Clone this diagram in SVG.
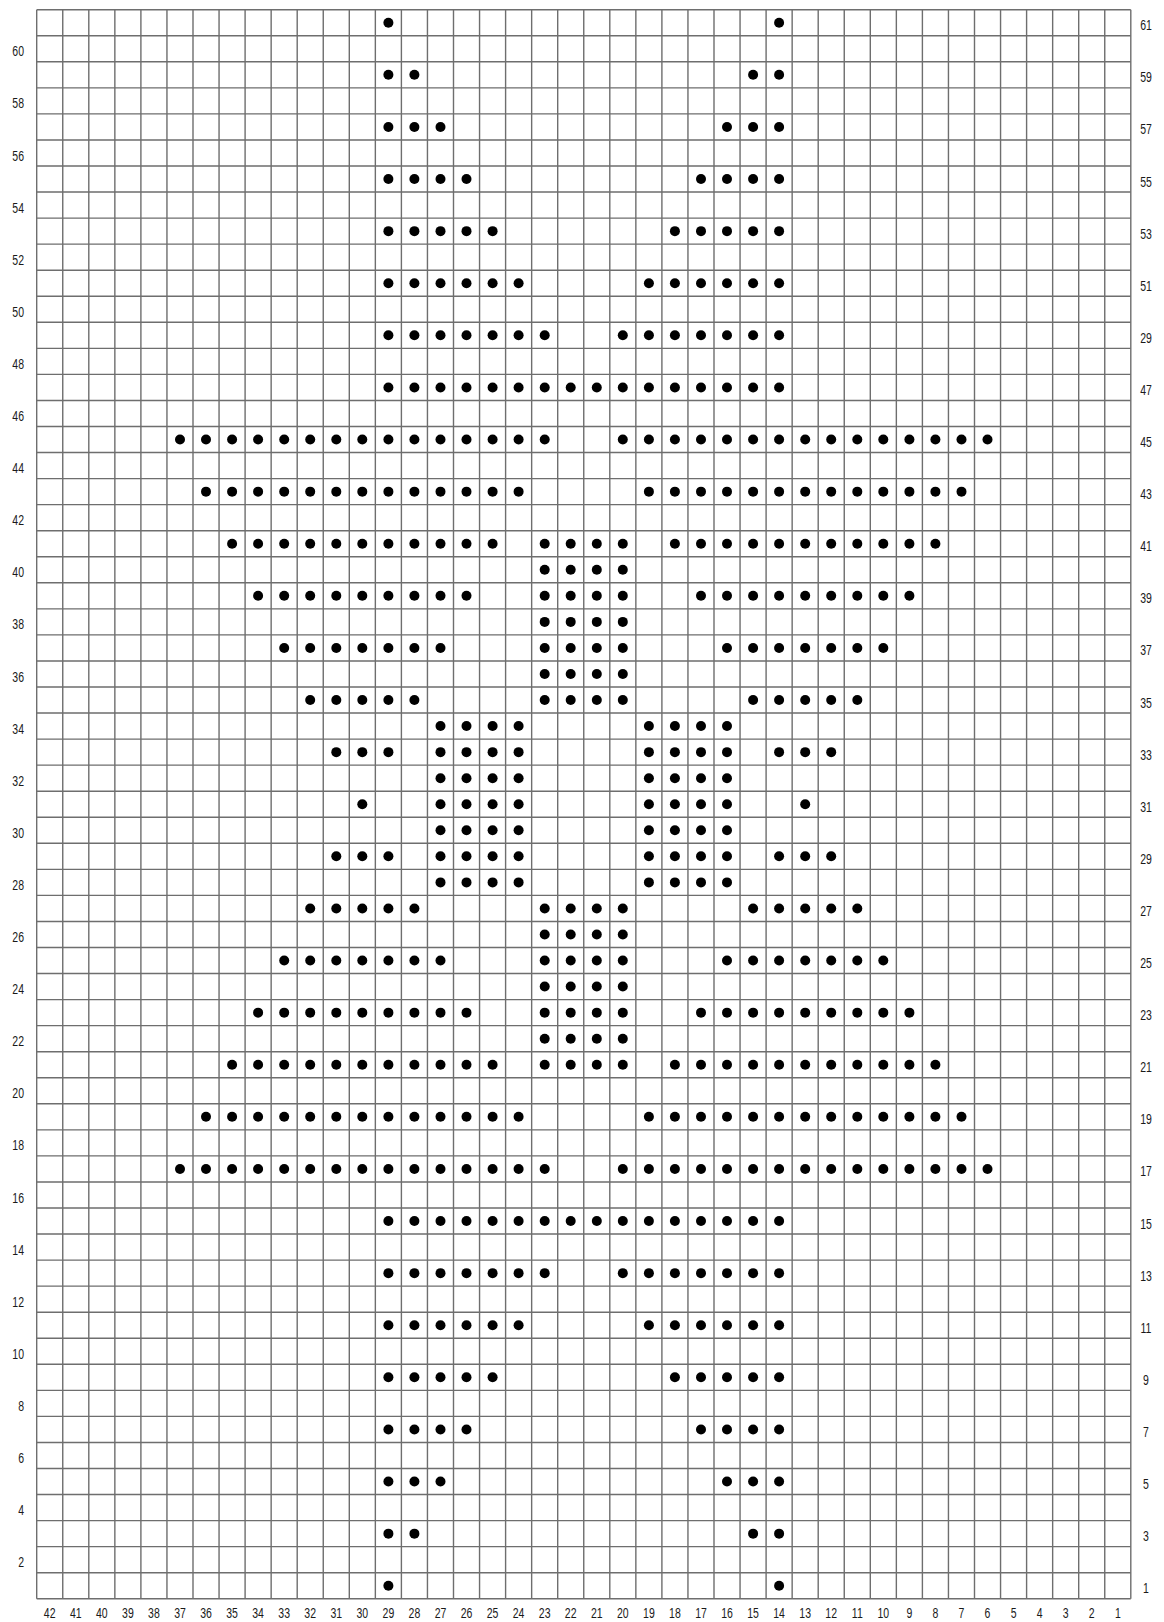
<svg xmlns="http://www.w3.org/2000/svg" width="1164" height="1622" viewBox="0 0 1164 1622">
<style>
.grid{fill:none;stroke:#6e6e6e;stroke-width:1.4}
.dots circle{fill:#000}
text{font-family:"Liberation Sans",Arial,sans-serif;font-size:14px;fill:#1a1a1a}
.l text{text-anchor:end}
.r text,.b text{text-anchor:middle}
</style>
<rect width="1164" height="1622" fill="#fff"/>
<g id="grid" class="grid">
<path d="M36.7 9.7V1598.75M62.75 9.7V1598.75M88.8 9.7V1598.75M114.85 9.7V1598.75M140.9 9.7V1598.75M166.95 9.7V1598.75M193 9.7V1598.75M219.05 9.7V1598.75M245.1 9.7V1598.75M271.15 9.7V1598.75M297.2 9.7V1598.75M323.25 9.7V1598.75M349.3 9.7V1598.75M375.35 9.7V1598.75M401.4 9.7V1598.75M427.45 9.7V1598.75M453.5 9.7V1598.75M479.55 9.7V1598.75M505.6 9.7V1598.75M531.65 9.7V1598.75M557.7 9.7V1598.75M583.75 9.7V1598.75M609.8 9.7V1598.75M635.85 9.7V1598.75M661.9 9.7V1598.75M687.95 9.7V1598.75M714 9.7V1598.75M740.05 9.7V1598.75M766.1 9.7V1598.75M792.15 9.7V1598.75M818.2 9.7V1598.75M844.25 9.7V1598.75M870.3 9.7V1598.75M896.35 9.7V1598.75M922.4 9.7V1598.75M948.45 9.7V1598.75M974.5 9.7V1598.75M1000.55 9.7V1598.75M1026.6 9.7V1598.75M1052.65 9.7V1598.75M1078.7 9.7V1598.75M1104.75 9.7V1598.75M1130.8 9.7V1598.75"/>
<path d="M36.7 9.7H1130.8M36.7 35.75H1130.8M36.7 61.8H1130.8M36.7 87.85H1130.8M36.7 113.9H1130.8M36.7 139.95H1130.8M36.7 166H1130.8M36.7 192.05H1130.8M36.7 218.1H1130.8M36.7 244.15H1130.8M36.7 270.2H1130.8M36.7 296.25H1130.8M36.7 322.3H1130.8M36.7 348.35H1130.8M36.7 374.4H1130.8M36.7 400.45H1130.8M36.7 426.5H1130.8M36.7 452.55H1130.8M36.7 478.6H1130.8M36.7 504.65H1130.8M36.7 530.7H1130.8M36.7 556.75H1130.8M36.7 582.8H1130.8M36.7 608.85H1130.8M36.7 634.9H1130.8M36.7 660.95H1130.8M36.7 687H1130.8M36.7 713.05H1130.8M36.7 739.1H1130.8M36.7 765.15H1130.8M36.7 791.2H1130.8M36.7 817.25H1130.8M36.7 843.3H1130.8M36.7 869.35H1130.8M36.7 895.4H1130.8M36.7 921.45H1130.8M36.7 947.5H1130.8M36.7 973.55H1130.8M36.7 999.6H1130.8M36.7 1025.65H1130.8M36.7 1051.7H1130.8M36.7 1077.75H1130.8M36.7 1103.8H1130.8M36.7 1129.85H1130.8M36.7 1155.9H1130.8M36.7 1181.95H1130.8M36.7 1208H1130.8M36.7 1234.05H1130.8M36.7 1260.1H1130.8M36.7 1286.15H1130.8M36.7 1312.2H1130.8M36.7 1338.25H1130.8M36.7 1364.3H1130.8M36.7 1390.35H1130.8M36.7 1416.4H1130.8M36.7 1442.45H1130.8M36.7 1468.5H1130.8M36.7 1494.55H1130.8M36.7 1520.6H1130.8M36.7 1546.65H1130.8M36.7 1572.7H1130.8M36.7 1598.75H1130.8"/>
</g>
<g id="dots" class="dots">
<g id="row61" transform="translate(0 22.73)"><circle cx="388.4" r="5"/><circle cx="779.1" r="5"/></g>
<g id="row59" transform="translate(0 74.83)"><circle cx="388.4" r="5"/><circle cx="414.4" r="5"/><circle cx="753.1" r="5"/><circle cx="779.1" r="5"/></g>
<g id="row57" transform="translate(0 126.93)"><circle cx="388.4" r="5"/><circle cx="414.4" r="5"/><circle cx="440.5" r="5"/><circle cx="727" r="5"/><circle cx="753.1" r="5"/><circle cx="779.1" r="5"/></g>
<g id="row55" transform="translate(0 179.03)"><circle cx="388.4" r="5"/><circle cx="414.4" r="5"/><circle cx="440.5" r="5"/><circle cx="466.5" r="5"/><circle cx="701" r="5"/><circle cx="727" r="5"/><circle cx="753.1" r="5"/><circle cx="779.1" r="5"/></g>
<g id="row53" transform="translate(0 231.13)"><circle cx="388.4" r="5"/><circle cx="414.4" r="5"/><circle cx="440.5" r="5"/><circle cx="466.5" r="5"/><circle cx="492.6" r="5"/><circle cx="674.9" r="5"/><circle cx="701" r="5"/><circle cx="727" r="5"/><circle cx="753.1" r="5"/><circle cx="779.1" r="5"/></g>
<g id="row51" transform="translate(0 283.23)"><circle cx="388.4" r="5"/><circle cx="414.4" r="5"/><circle cx="440.5" r="5"/><circle cx="466.5" r="5"/><circle cx="492.6" r="5"/><circle cx="518.6" r="5"/><circle cx="648.9" r="5"/><circle cx="674.9" r="5"/><circle cx="701" r="5"/><circle cx="727" r="5"/><circle cx="753.1" r="5"/><circle cx="779.1" r="5"/></g>
<g id="row49" transform="translate(0 335.33)"><circle cx="388.4" r="5"/><circle cx="414.4" r="5"/><circle cx="440.5" r="5"/><circle cx="466.5" r="5"/><circle cx="492.6" r="5"/><circle cx="518.6" r="5"/><circle cx="544.7" r="5"/><circle cx="622.8" r="5"/><circle cx="648.9" r="5"/><circle cx="674.9" r="5"/><circle cx="701" r="5"/><circle cx="727" r="5"/><circle cx="753.1" r="5"/><circle cx="779.1" r="5"/></g>
<g id="row47" transform="translate(0 387.43)"><circle cx="388.4" r="5"/><circle cx="414.4" r="5"/><circle cx="440.5" r="5"/><circle cx="466.5" r="5"/><circle cx="492.6" r="5"/><circle cx="518.6" r="5"/><circle cx="544.7" r="5"/><circle cx="570.7" r="5"/><circle cx="596.8" r="5"/><circle cx="622.8" r="5"/><circle cx="648.9" r="5"/><circle cx="674.9" r="5"/><circle cx="701" r="5"/><circle cx="727" r="5"/><circle cx="753.1" r="5"/><circle cx="779.1" r="5"/></g>
<g id="row45" transform="translate(0 439.53)"><circle cx="180" r="5"/><circle cx="206" r="5"/><circle cx="232.1" r="5"/><circle cx="258.1" r="5"/><circle cx="284.2" r="5"/><circle cx="310.2" r="5"/><circle cx="336.3" r="5"/><circle cx="362.3" r="5"/><circle cx="388.4" r="5"/><circle cx="414.4" r="5"/><circle cx="440.5" r="5"/><circle cx="466.5" r="5"/><circle cx="492.6" r="5"/><circle cx="518.6" r="5"/><circle cx="544.7" r="5"/><circle cx="622.8" r="5"/><circle cx="648.9" r="5"/><circle cx="674.9" r="5"/><circle cx="701" r="5"/><circle cx="727" r="5"/><circle cx="753.1" r="5"/><circle cx="779.1" r="5"/><circle cx="805.2" r="5"/><circle cx="831.2" r="5"/><circle cx="857.3" r="5"/><circle cx="883.3" r="5"/><circle cx="909.4" r="5"/><circle cx="935.4" r="5"/><circle cx="961.5" r="5"/><circle cx="987.5" r="5"/></g>
<g id="row43" transform="translate(0 491.63)"><circle cx="206" r="5"/><circle cx="232.1" r="5"/><circle cx="258.1" r="5"/><circle cx="284.2" r="5"/><circle cx="310.2" r="5"/><circle cx="336.3" r="5"/><circle cx="362.3" r="5"/><circle cx="388.4" r="5"/><circle cx="414.4" r="5"/><circle cx="440.5" r="5"/><circle cx="466.5" r="5"/><circle cx="492.6" r="5"/><circle cx="518.6" r="5"/><circle cx="648.9" r="5"/><circle cx="674.9" r="5"/><circle cx="701" r="5"/><circle cx="727" r="5"/><circle cx="753.1" r="5"/><circle cx="779.1" r="5"/><circle cx="805.2" r="5"/><circle cx="831.2" r="5"/><circle cx="857.3" r="5"/><circle cx="883.3" r="5"/><circle cx="909.4" r="5"/><circle cx="935.4" r="5"/><circle cx="961.5" r="5"/></g>
<g id="row41" transform="translate(0 543.73)"><circle cx="232.1" r="5"/><circle cx="258.1" r="5"/><circle cx="284.2" r="5"/><circle cx="310.2" r="5"/><circle cx="336.3" r="5"/><circle cx="362.3" r="5"/><circle cx="388.4" r="5"/><circle cx="414.4" r="5"/><circle cx="440.5" r="5"/><circle cx="466.5" r="5"/><circle cx="492.6" r="5"/><circle cx="544.7" r="5"/><circle cx="570.7" r="5"/><circle cx="596.8" r="5"/><circle cx="622.8" r="5"/><circle cx="674.9" r="5"/><circle cx="701" r="5"/><circle cx="727" r="5"/><circle cx="753.1" r="5"/><circle cx="779.1" r="5"/><circle cx="805.2" r="5"/><circle cx="831.2" r="5"/><circle cx="857.3" r="5"/><circle cx="883.3" r="5"/><circle cx="909.4" r="5"/><circle cx="935.4" r="5"/></g>
<g id="row40" transform="translate(0 569.78)"><circle cx="544.7" r="5"/><circle cx="570.7" r="5"/><circle cx="596.8" r="5"/><circle cx="622.8" r="5"/></g>
<g id="row39" transform="translate(0 595.83)"><circle cx="258.1" r="5"/><circle cx="284.2" r="5"/><circle cx="310.2" r="5"/><circle cx="336.3" r="5"/><circle cx="362.3" r="5"/><circle cx="388.4" r="5"/><circle cx="414.4" r="5"/><circle cx="440.5" r="5"/><circle cx="466.5" r="5"/><circle cx="544.7" r="5"/><circle cx="570.7" r="5"/><circle cx="596.8" r="5"/><circle cx="622.8" r="5"/><circle cx="701" r="5"/><circle cx="727" r="5"/><circle cx="753.1" r="5"/><circle cx="779.1" r="5"/><circle cx="805.2" r="5"/><circle cx="831.2" r="5"/><circle cx="857.3" r="5"/><circle cx="883.3" r="5"/><circle cx="909.4" r="5"/></g>
<g id="row38" transform="translate(0 621.88)"><circle cx="544.7" r="5"/><circle cx="570.7" r="5"/><circle cx="596.8" r="5"/><circle cx="622.8" r="5"/></g>
<g id="row37" transform="translate(0 647.93)"><circle cx="284.2" r="5"/><circle cx="310.2" r="5"/><circle cx="336.3" r="5"/><circle cx="362.3" r="5"/><circle cx="388.4" r="5"/><circle cx="414.4" r="5"/><circle cx="440.5" r="5"/><circle cx="544.7" r="5"/><circle cx="570.7" r="5"/><circle cx="596.8" r="5"/><circle cx="622.8" r="5"/><circle cx="727" r="5"/><circle cx="753.1" r="5"/><circle cx="779.1" r="5"/><circle cx="805.2" r="5"/><circle cx="831.2" r="5"/><circle cx="857.3" r="5"/><circle cx="883.3" r="5"/></g>
<g id="row36" transform="translate(0 673.98)"><circle cx="544.7" r="5"/><circle cx="570.7" r="5"/><circle cx="596.8" r="5"/><circle cx="622.8" r="5"/></g>
<g id="row35" transform="translate(0 700.03)"><circle cx="310.2" r="5"/><circle cx="336.3" r="5"/><circle cx="362.3" r="5"/><circle cx="388.4" r="5"/><circle cx="414.4" r="5"/><circle cx="544.7" r="5"/><circle cx="570.7" r="5"/><circle cx="596.8" r="5"/><circle cx="622.8" r="5"/><circle cx="753.1" r="5"/><circle cx="779.1" r="5"/><circle cx="805.2" r="5"/><circle cx="831.2" r="5"/><circle cx="857.3" r="5"/></g>
<g id="row34" transform="translate(0 726.08)"><circle cx="440.5" r="5"/><circle cx="466.5" r="5"/><circle cx="492.6" r="5"/><circle cx="518.6" r="5"/><circle cx="648.9" r="5"/><circle cx="674.9" r="5"/><circle cx="701" r="5"/><circle cx="727" r="5"/></g>
<g id="row33" transform="translate(0 752.13)"><circle cx="336.3" r="5"/><circle cx="362.3" r="5"/><circle cx="388.4" r="5"/><circle cx="440.5" r="5"/><circle cx="466.5" r="5"/><circle cx="492.6" r="5"/><circle cx="518.6" r="5"/><circle cx="648.9" r="5"/><circle cx="674.9" r="5"/><circle cx="701" r="5"/><circle cx="727" r="5"/><circle cx="779.1" r="5"/><circle cx="805.2" r="5"/><circle cx="831.2" r="5"/></g>
<g id="row32" transform="translate(0 778.18)"><circle cx="440.5" r="5"/><circle cx="466.5" r="5"/><circle cx="492.6" r="5"/><circle cx="518.6" r="5"/><circle cx="648.9" r="5"/><circle cx="674.9" r="5"/><circle cx="701" r="5"/><circle cx="727" r="5"/></g>
<g id="row31" transform="translate(0 804.23)"><circle cx="362.3" r="5"/><circle cx="440.5" r="5"/><circle cx="466.5" r="5"/><circle cx="492.6" r="5"/><circle cx="518.6" r="5"/><circle cx="648.9" r="5"/><circle cx="674.9" r="5"/><circle cx="701" r="5"/><circle cx="727" r="5"/><circle cx="805.2" r="5"/></g>
<g id="row30" transform="translate(0 830.28)"><circle cx="440.5" r="5"/><circle cx="466.5" r="5"/><circle cx="492.6" r="5"/><circle cx="518.6" r="5"/><circle cx="648.9" r="5"/><circle cx="674.9" r="5"/><circle cx="701" r="5"/><circle cx="727" r="5"/></g>
<g id="row29" transform="translate(0 856.33)"><circle cx="336.3" r="5"/><circle cx="362.3" r="5"/><circle cx="388.4" r="5"/><circle cx="440.5" r="5"/><circle cx="466.5" r="5"/><circle cx="492.6" r="5"/><circle cx="518.6" r="5"/><circle cx="648.9" r="5"/><circle cx="674.9" r="5"/><circle cx="701" r="5"/><circle cx="727" r="5"/><circle cx="779.1" r="5"/><circle cx="805.2" r="5"/><circle cx="831.2" r="5"/></g>
<g id="row28" transform="translate(0 882.38)"><circle cx="440.5" r="5"/><circle cx="466.5" r="5"/><circle cx="492.6" r="5"/><circle cx="518.6" r="5"/><circle cx="648.9" r="5"/><circle cx="674.9" r="5"/><circle cx="701" r="5"/><circle cx="727" r="5"/></g>
<g id="row27" transform="translate(0 908.43)"><circle cx="310.2" r="5"/><circle cx="336.3" r="5"/><circle cx="362.3" r="5"/><circle cx="388.4" r="5"/><circle cx="414.4" r="5"/><circle cx="544.7" r="5"/><circle cx="570.7" r="5"/><circle cx="596.8" r="5"/><circle cx="622.8" r="5"/><circle cx="753.1" r="5"/><circle cx="779.1" r="5"/><circle cx="805.2" r="5"/><circle cx="831.2" r="5"/><circle cx="857.3" r="5"/></g>
<g id="row26" transform="translate(0 934.48)"><circle cx="544.7" r="5"/><circle cx="570.7" r="5"/><circle cx="596.8" r="5"/><circle cx="622.8" r="5"/></g>
<g id="row25" transform="translate(0 960.53)"><circle cx="284.2" r="5"/><circle cx="310.2" r="5"/><circle cx="336.3" r="5"/><circle cx="362.3" r="5"/><circle cx="388.4" r="5"/><circle cx="414.4" r="5"/><circle cx="440.5" r="5"/><circle cx="544.7" r="5"/><circle cx="570.7" r="5"/><circle cx="596.8" r="5"/><circle cx="622.8" r="5"/><circle cx="727" r="5"/><circle cx="753.1" r="5"/><circle cx="779.1" r="5"/><circle cx="805.2" r="5"/><circle cx="831.2" r="5"/><circle cx="857.3" r="5"/><circle cx="883.3" r="5"/></g>
<g id="row24" transform="translate(0 986.58)"><circle cx="544.7" r="5"/><circle cx="570.7" r="5"/><circle cx="596.8" r="5"/><circle cx="622.8" r="5"/></g>
<g id="row23" transform="translate(0 1012.63)"><circle cx="258.1" r="5"/><circle cx="284.2" r="5"/><circle cx="310.2" r="5"/><circle cx="336.3" r="5"/><circle cx="362.3" r="5"/><circle cx="388.4" r="5"/><circle cx="414.4" r="5"/><circle cx="440.5" r="5"/><circle cx="466.5" r="5"/><circle cx="544.7" r="5"/><circle cx="570.7" r="5"/><circle cx="596.8" r="5"/><circle cx="622.8" r="5"/><circle cx="701" r="5"/><circle cx="727" r="5"/><circle cx="753.1" r="5"/><circle cx="779.1" r="5"/><circle cx="805.2" r="5"/><circle cx="831.2" r="5"/><circle cx="857.3" r="5"/><circle cx="883.3" r="5"/><circle cx="909.4" r="5"/></g>
<g id="row22" transform="translate(0 1038.68)"><circle cx="544.7" r="5"/><circle cx="570.7" r="5"/><circle cx="596.8" r="5"/><circle cx="622.8" r="5"/></g>
<g id="row21" transform="translate(0 1064.73)"><circle cx="232.1" r="5"/><circle cx="258.1" r="5"/><circle cx="284.2" r="5"/><circle cx="310.2" r="5"/><circle cx="336.3" r="5"/><circle cx="362.3" r="5"/><circle cx="388.4" r="5"/><circle cx="414.4" r="5"/><circle cx="440.5" r="5"/><circle cx="466.5" r="5"/><circle cx="492.6" r="5"/><circle cx="544.7" r="5"/><circle cx="570.7" r="5"/><circle cx="596.8" r="5"/><circle cx="622.8" r="5"/><circle cx="674.9" r="5"/><circle cx="701" r="5"/><circle cx="727" r="5"/><circle cx="753.1" r="5"/><circle cx="779.1" r="5"/><circle cx="805.2" r="5"/><circle cx="831.2" r="5"/><circle cx="857.3" r="5"/><circle cx="883.3" r="5"/><circle cx="909.4" r="5"/><circle cx="935.4" r="5"/></g>
<g id="row19" transform="translate(0 1116.83)"><circle cx="206" r="5"/><circle cx="232.1" r="5"/><circle cx="258.1" r="5"/><circle cx="284.2" r="5"/><circle cx="310.2" r="5"/><circle cx="336.3" r="5"/><circle cx="362.3" r="5"/><circle cx="388.4" r="5"/><circle cx="414.4" r="5"/><circle cx="440.5" r="5"/><circle cx="466.5" r="5"/><circle cx="492.6" r="5"/><circle cx="518.6" r="5"/><circle cx="648.9" r="5"/><circle cx="674.9" r="5"/><circle cx="701" r="5"/><circle cx="727" r="5"/><circle cx="753.1" r="5"/><circle cx="779.1" r="5"/><circle cx="805.2" r="5"/><circle cx="831.2" r="5"/><circle cx="857.3" r="5"/><circle cx="883.3" r="5"/><circle cx="909.4" r="5"/><circle cx="935.4" r="5"/><circle cx="961.5" r="5"/></g>
<g id="row17" transform="translate(0 1168.93)"><circle cx="180" r="5"/><circle cx="206" r="5"/><circle cx="232.1" r="5"/><circle cx="258.1" r="5"/><circle cx="284.2" r="5"/><circle cx="310.2" r="5"/><circle cx="336.3" r="5"/><circle cx="362.3" r="5"/><circle cx="388.4" r="5"/><circle cx="414.4" r="5"/><circle cx="440.5" r="5"/><circle cx="466.5" r="5"/><circle cx="492.6" r="5"/><circle cx="518.6" r="5"/><circle cx="544.7" r="5"/><circle cx="622.8" r="5"/><circle cx="648.9" r="5"/><circle cx="674.9" r="5"/><circle cx="701" r="5"/><circle cx="727" r="5"/><circle cx="753.1" r="5"/><circle cx="779.1" r="5"/><circle cx="805.2" r="5"/><circle cx="831.2" r="5"/><circle cx="857.3" r="5"/><circle cx="883.3" r="5"/><circle cx="909.4" r="5"/><circle cx="935.4" r="5"/><circle cx="961.5" r="5"/><circle cx="987.5" r="5"/></g>
<g id="row15" transform="translate(0 1221.03)"><circle cx="388.4" r="5"/><circle cx="414.4" r="5"/><circle cx="440.5" r="5"/><circle cx="466.5" r="5"/><circle cx="492.6" r="5"/><circle cx="518.6" r="5"/><circle cx="544.7" r="5"/><circle cx="570.7" r="5"/><circle cx="596.8" r="5"/><circle cx="622.8" r="5"/><circle cx="648.9" r="5"/><circle cx="674.9" r="5"/><circle cx="701" r="5"/><circle cx="727" r="5"/><circle cx="753.1" r="5"/><circle cx="779.1" r="5"/></g>
<g id="row13" transform="translate(0 1273.13)"><circle cx="388.4" r="5"/><circle cx="414.4" r="5"/><circle cx="440.5" r="5"/><circle cx="466.5" r="5"/><circle cx="492.6" r="5"/><circle cx="518.6" r="5"/><circle cx="544.7" r="5"/><circle cx="622.8" r="5"/><circle cx="648.9" r="5"/><circle cx="674.9" r="5"/><circle cx="701" r="5"/><circle cx="727" r="5"/><circle cx="753.1" r="5"/><circle cx="779.1" r="5"/></g>
<g id="row11" transform="translate(0 1325.23)"><circle cx="388.4" r="5"/><circle cx="414.4" r="5"/><circle cx="440.5" r="5"/><circle cx="466.5" r="5"/><circle cx="492.6" r="5"/><circle cx="518.6" r="5"/><circle cx="648.9" r="5"/><circle cx="674.9" r="5"/><circle cx="701" r="5"/><circle cx="727" r="5"/><circle cx="753.1" r="5"/><circle cx="779.1" r="5"/></g>
<g id="row9" transform="translate(0 1377.33)"><circle cx="388.4" r="5"/><circle cx="414.4" r="5"/><circle cx="440.5" r="5"/><circle cx="466.5" r="5"/><circle cx="492.6" r="5"/><circle cx="674.9" r="5"/><circle cx="701" r="5"/><circle cx="727" r="5"/><circle cx="753.1" r="5"/><circle cx="779.1" r="5"/></g>
<g id="row7" transform="translate(0 1429.43)"><circle cx="388.4" r="5"/><circle cx="414.4" r="5"/><circle cx="440.5" r="5"/><circle cx="466.5" r="5"/><circle cx="701" r="5"/><circle cx="727" r="5"/><circle cx="753.1" r="5"/><circle cx="779.1" r="5"/></g>
<g id="row5" transform="translate(0 1481.53)"><circle cx="388.4" r="5"/><circle cx="414.4" r="5"/><circle cx="440.5" r="5"/><circle cx="727" r="5"/><circle cx="753.1" r="5"/><circle cx="779.1" r="5"/></g>
<g id="row3" transform="translate(0 1533.63)"><circle cx="388.4" r="5"/><circle cx="414.4" r="5"/><circle cx="753.1" r="5"/><circle cx="779.1" r="5"/></g>
<g id="row1" transform="translate(0 1585.73)"><circle cx="388.4" r="5"/><circle cx="779.1" r="5"/></g>
</g>
<g id="left-labels" class="l">
<text transform="translate(24 56.3) scale(.75 1)">60</text>
<text transform="translate(24 108.4) scale(.75 1)">58</text>
<text transform="translate(24 160.5) scale(.75 1)">56</text>
<text transform="translate(24 212.6) scale(.75 1)">54</text>
<text transform="translate(24 264.7) scale(.75 1)">52</text>
<text transform="translate(24 316.8) scale(.75 1)">50</text>
<text transform="translate(24 368.9) scale(.75 1)">48</text>
<text transform="translate(24 421) scale(.75 1)">46</text>
<text transform="translate(24 473.1) scale(.75 1)">44</text>
<text transform="translate(24 525.2) scale(.75 1)">42</text>
<text transform="translate(24 577.3) scale(.75 1)">40</text>
<text transform="translate(24 629.4) scale(.75 1)">38</text>
<text transform="translate(24 681.5) scale(.75 1)">36</text>
<text transform="translate(24 733.6) scale(.75 1)">34</text>
<text transform="translate(24 785.7) scale(.75 1)">32</text>
<text transform="translate(24 837.8) scale(.75 1)">30</text>
<text transform="translate(24 889.9) scale(.75 1)">28</text>
<text transform="translate(24 942) scale(.75 1)">26</text>
<text transform="translate(24 994.1) scale(.75 1)">24</text>
<text transform="translate(24 1046.2) scale(.75 1)">22</text>
<text transform="translate(24 1098.3) scale(.75 1)">20</text>
<text transform="translate(24 1150.4) scale(.75 1)">18</text>
<text transform="translate(24 1202.5) scale(.75 1)">16</text>
<text transform="translate(24 1254.6) scale(.75 1)">14</text>
<text transform="translate(24 1306.7) scale(.75 1)">12</text>
<text transform="translate(24 1358.8) scale(.75 1)">10</text>
<text transform="translate(24 1410.9) scale(.75 1)">8</text>
<text transform="translate(24 1463) scale(.75 1)">6</text>
<text transform="translate(24 1515.1) scale(.75 1)">4</text>
<text transform="translate(24 1567.2) scale(.75 1)">2</text>
</g>
<g id="right-labels" class="r">
<text transform="translate(1146 30.2) scale(.75 1)">61</text>
<text transform="translate(1146 82.3) scale(.75 1)">59</text>
<text transform="translate(1146 134.4) scale(.75 1)">57</text>
<text transform="translate(1146 186.5) scale(.75 1)">55</text>
<text transform="translate(1146 238.6) scale(.75 1)">53</text>
<text transform="translate(1146 290.7) scale(.75 1)">51</text>
<text transform="translate(1146 342.8) scale(.75 1)">29</text>
<text transform="translate(1146 394.9) scale(.75 1)">47</text>
<text transform="translate(1146 447) scale(.75 1)">45</text>
<text transform="translate(1146 499.1) scale(.75 1)">43</text>
<text transform="translate(1146 551.2) scale(.75 1)">41</text>
<text transform="translate(1146 603.3) scale(.75 1)">39</text>
<text transform="translate(1146 655.4) scale(.75 1)">37</text>
<text transform="translate(1146 707.5) scale(.75 1)">35</text>
<text transform="translate(1146 759.6) scale(.75 1)">33</text>
<text transform="translate(1146 811.7) scale(.75 1)">31</text>
<text transform="translate(1146 863.8) scale(.75 1)">29</text>
<text transform="translate(1146 915.9) scale(.75 1)">27</text>
<text transform="translate(1146 968) scale(.75 1)">25</text>
<text transform="translate(1146 1020.1) scale(.75 1)">23</text>
<text transform="translate(1146 1072.2) scale(.75 1)">21</text>
<text transform="translate(1146 1124.3) scale(.75 1)">19</text>
<text transform="translate(1146 1176.4) scale(.75 1)">17</text>
<text transform="translate(1146 1228.5) scale(.75 1)">15</text>
<text transform="translate(1146 1280.6) scale(.75 1)">13</text>
<text transform="translate(1146 1332.7) scale(.75 1)">11</text>
<text transform="translate(1146 1384.8) scale(.75 1)">9</text>
<text transform="translate(1146 1436.9) scale(.75 1)">7</text>
<text transform="translate(1146 1489) scale(.75 1)">5</text>
<text transform="translate(1146 1541.1) scale(.75 1)">3</text>
<text transform="translate(1146 1593.2) scale(.75 1)">1</text>
</g>
<g id="bottom-labels" class="b">
<text transform="translate(49.7 1618) scale(.75 1)">42</text>
<text transform="translate(75.8 1618) scale(.75 1)">41</text>
<text transform="translate(101.8 1618) scale(.75 1)">40</text>
<text transform="translate(127.9 1618) scale(.75 1)">39</text>
<text transform="translate(153.9 1618) scale(.75 1)">38</text>
<text transform="translate(180 1618) scale(.75 1)">37</text>
<text transform="translate(206 1618) scale(.75 1)">36</text>
<text transform="translate(232.1 1618) scale(.75 1)">35</text>
<text transform="translate(258.1 1618) scale(.75 1)">34</text>
<text transform="translate(284.2 1618) scale(.75 1)">33</text>
<text transform="translate(310.2 1618) scale(.75 1)">32</text>
<text transform="translate(336.3 1618) scale(.75 1)">31</text>
<text transform="translate(362.3 1618) scale(.75 1)">30</text>
<text transform="translate(388.4 1618) scale(.75 1)">29</text>
<text transform="translate(414.4 1618) scale(.75 1)">28</text>
<text transform="translate(440.5 1618) scale(.75 1)">27</text>
<text transform="translate(466.5 1618) scale(.75 1)">26</text>
<text transform="translate(492.6 1618) scale(.75 1)">25</text>
<text transform="translate(518.6 1618) scale(.75 1)">24</text>
<text transform="translate(544.7 1618) scale(.75 1)">23</text>
<text transform="translate(570.7 1618) scale(.75 1)">22</text>
<text transform="translate(596.8 1618) scale(.75 1)">21</text>
<text transform="translate(622.8 1618) scale(.75 1)">20</text>
<text transform="translate(648.9 1618) scale(.75 1)">19</text>
<text transform="translate(674.9 1618) scale(.75 1)">18</text>
<text transform="translate(701 1618) scale(.75 1)">17</text>
<text transform="translate(727 1618) scale(.75 1)">16</text>
<text transform="translate(753.1 1618) scale(.75 1)">15</text>
<text transform="translate(779.1 1618) scale(.75 1)">14</text>
<text transform="translate(805.2 1618) scale(.75 1)">13</text>
<text transform="translate(831.2 1618) scale(.75 1)">12</text>
<text transform="translate(857.3 1618) scale(.75 1)">11</text>
<text transform="translate(883.3 1618) scale(.75 1)">10</text>
<text transform="translate(909.4 1618) scale(.75 1)">9</text>
<text transform="translate(935.4 1618) scale(.75 1)">8</text>
<text transform="translate(961.5 1618) scale(.75 1)">7</text>
<text transform="translate(987.5 1618) scale(.75 1)">6</text>
<text transform="translate(1013.6 1618) scale(.75 1)">5</text>
<text transform="translate(1039.6 1618) scale(.75 1)">4</text>
<text transform="translate(1065.7 1618) scale(.75 1)">3</text>
<text transform="translate(1091.7 1618) scale(.75 1)">2</text>
<text transform="translate(1117.8 1618) scale(.75 1)">1</text>
</g>
</svg>
